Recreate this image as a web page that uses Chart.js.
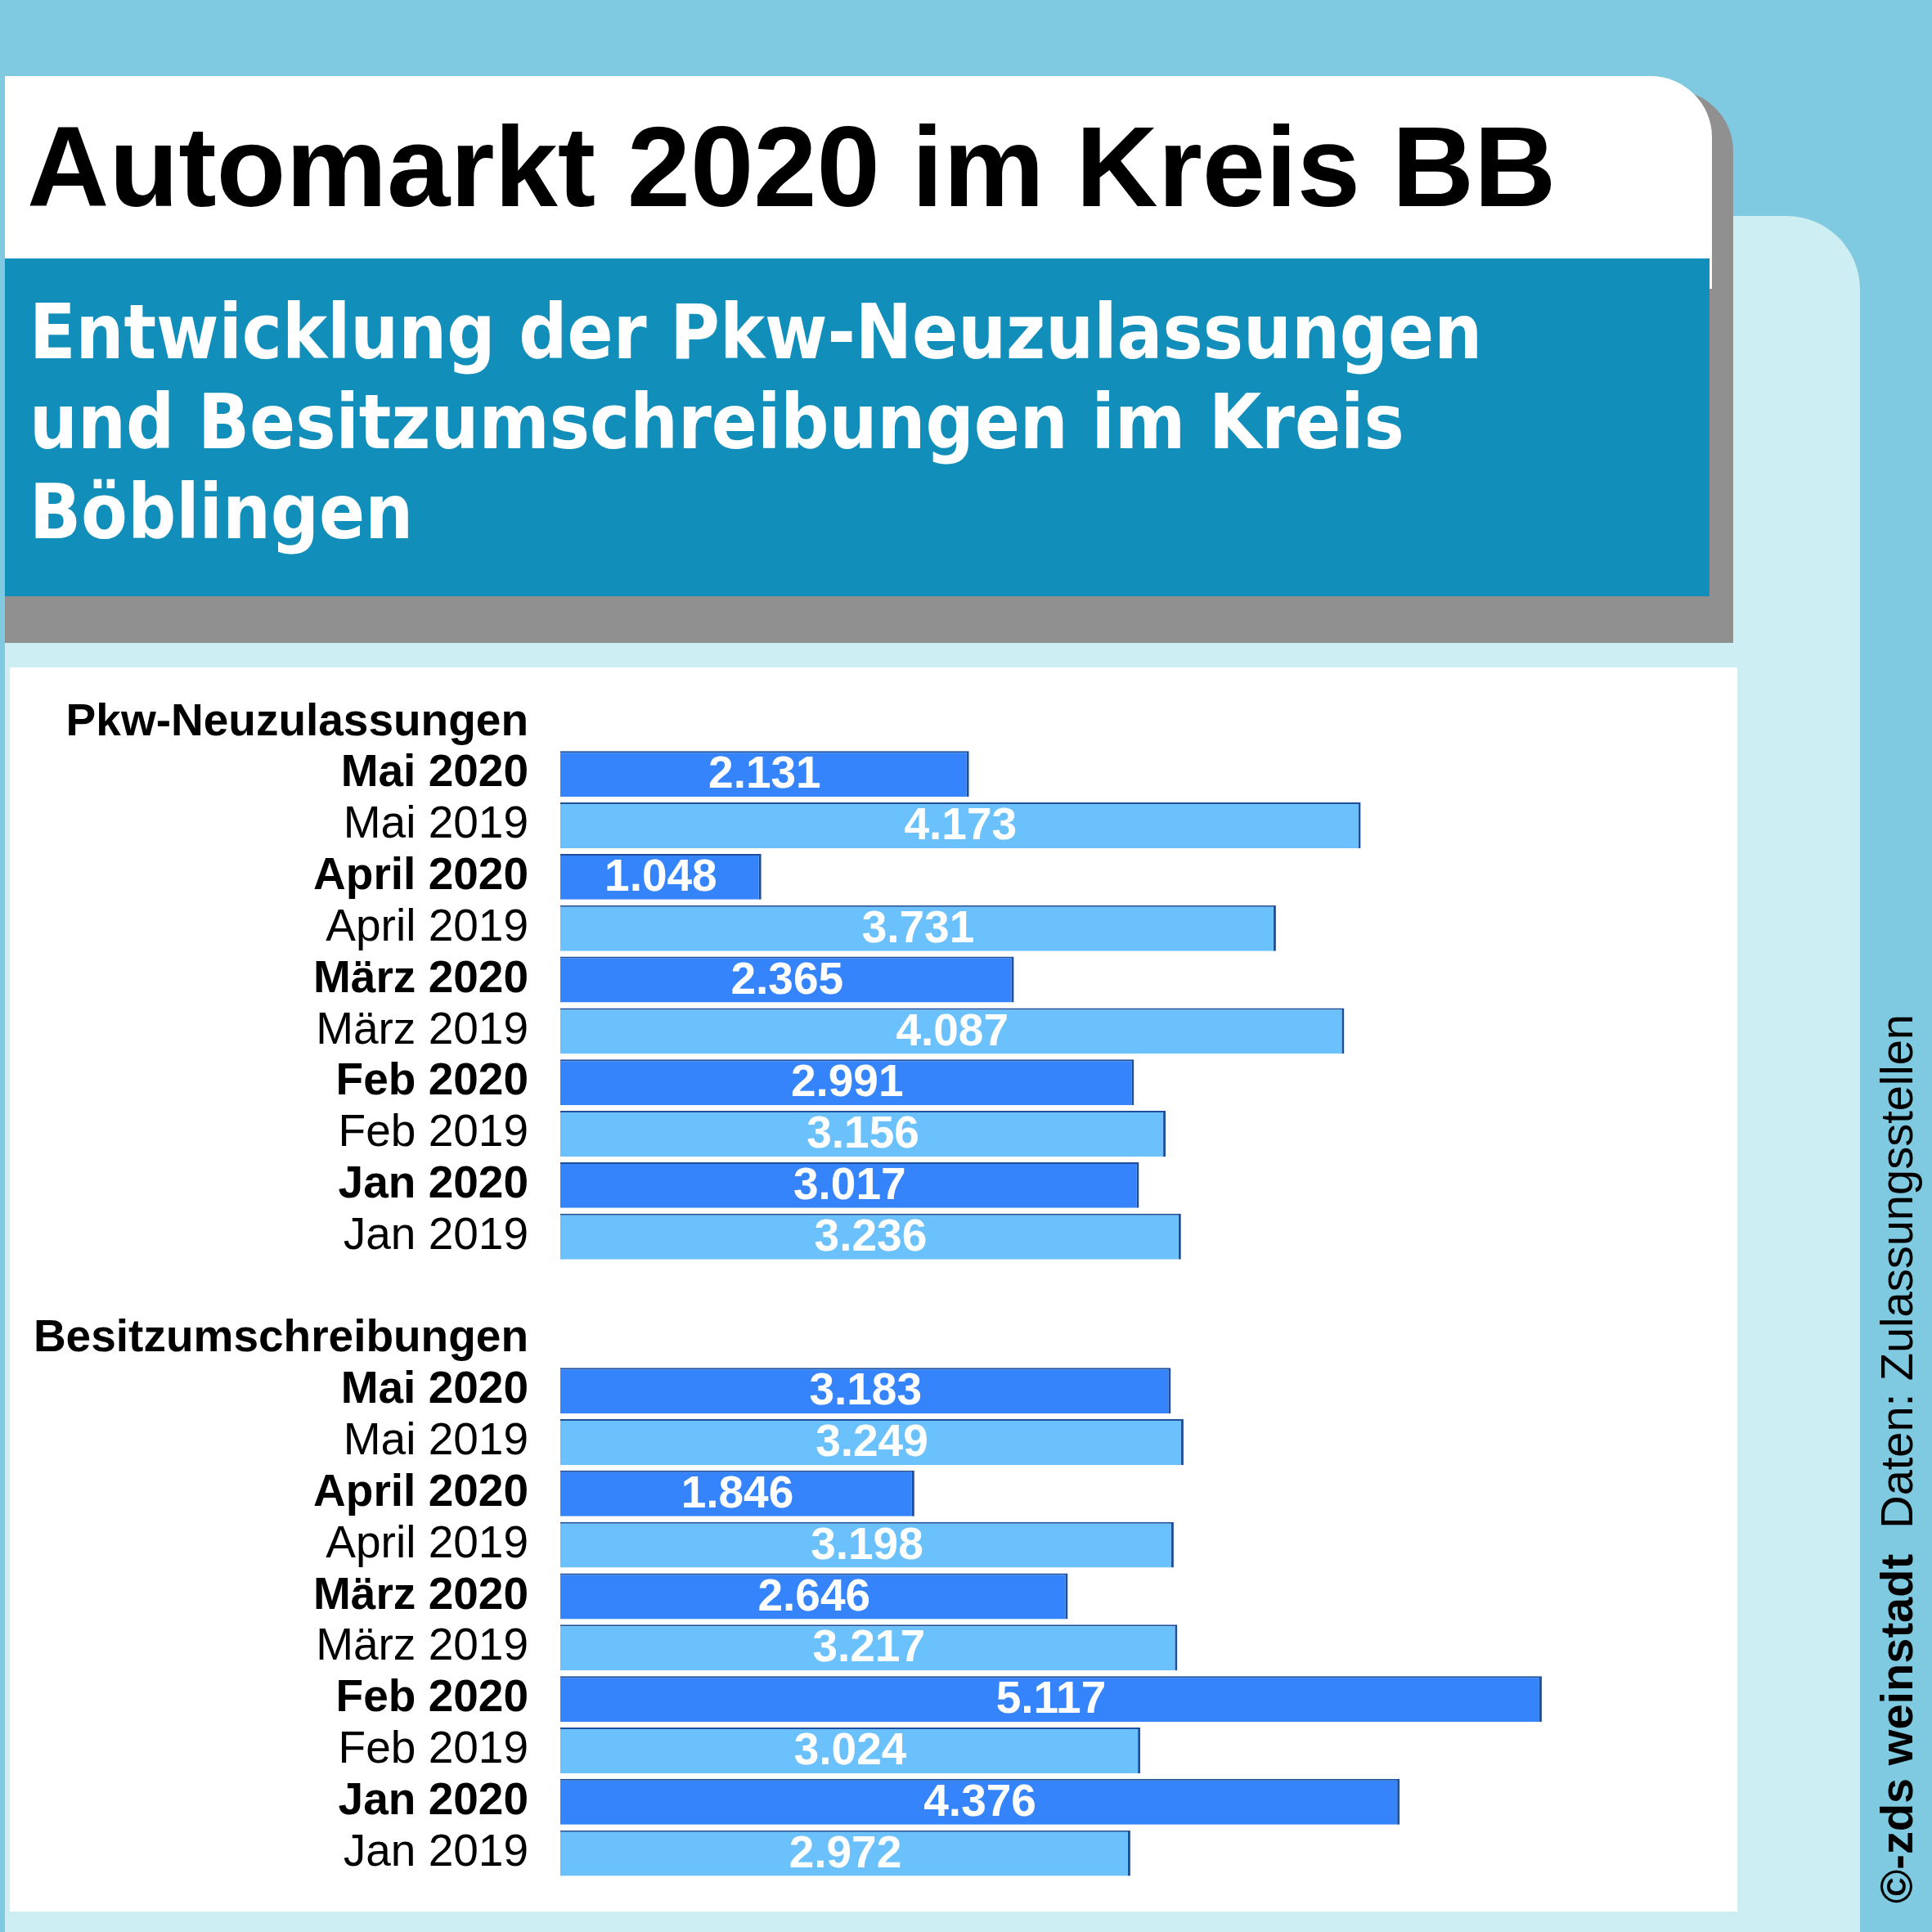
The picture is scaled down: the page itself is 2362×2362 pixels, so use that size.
<!DOCTYPE html>
<html>
<head>
<meta charset="utf-8">
<script src="https://cdn.jsdelivr.net/npm/chart.js@4/dist/chart.umd.min.js"></script>
<style>
  html, body { margin: 0; padding: 0; }
  body { width: 2362px; height: 2362px; background: #7fcae0; position: relative; overflow: hidden; font-family: "Liberation Sans", Arial, sans-serif; }
  .abs { position: absolute; }
  #panel { left: 6px; top: 264px; width: 2268px; height: 2110px; background: #cdeef3; border-top-right-radius: 90px; }
  #shadow { left: 6px; top: 110px; width: 2113px; height: 676px; background: #909090; border-top-right-radius: 75px; }
  #card { left: 6px; top: 93px; width: 2087px; height: 260px; background: #fff; border-top-right-radius: 75px; }
  #teal { left: 6px; top: 316px; width: 2084px; height: 413px; background: #128ebb; }
  #white { left: 12px; top: 816px; width: 2112px; height: 1521px; background: #fff; }
  #title { left: 33px; top: 134px; font: bold 139px "Liberation Sans", Arial, sans-serif; color: #000; white-space: nowrap; line-height: 1; }
  #sub { left: 36px; top: 352px; font: bold 92px "DejaVu Sans Condensed", "DejaVu Sans", sans-serif; font-stretch: condensed; color: #fff; line-height: 110px; white-space: nowrap; }
  #src { left: 2319px; top: 2327px; transform-origin: 0 0; transform: rotate(-90deg) translateY(-50%); font-size: 56px; color: #000; white-space: nowrap; line-height: 1; }
  #wrap { left: 0; top: 788px; width: 2124px; height: 1573px; }
</style>
</head>
<body>
<div class="abs" id="panel"></div>
<div class="abs" id="shadow"></div>
<div class="abs" id="card"></div>
<div class="abs" id="teal"></div>
<div class="abs" id="white"></div>
<div class="abs" id="title">Automarkt 2020 im Kreis BB</div>
<div class="abs" id="sub">Entwicklung der Pkw-Neuzulassungen<br>und Besitzumschreibungen im Kreis<br>Böblingen</div>
<div class="abs" id="src"><b>©-zds weinstadt</b>&nbsp; Daten: Zulassungsstellen</div>
<div class="abs" id="wrap"><canvas id="c" width="2124" height="1573"></canvas></div>
<script>
const months = ['Mai 2020', 'Mai 2019', 'April 2020', 'April 2019', 'März 2020', 'März 2019',
                'Feb 2020', 'Feb 2019', 'Jan 2020', 'Jan 2019'];
const neuzulassungen = [2131, 4173, 1048, 3731, 2365, 4087, 2991, 3156, 3017, 3236];
const besitzumschreibungen = [3183, 3249, 1846, 3198, 2646, 3217, 5117, 3024, 4376, 2972];
const sections = ['Pkw-Neuzulassungen', 'Besitzumschreibungen'];

// header row, 10 months, blank row, header row, 10 months
const labels = [sections[0], ...months, '', sections[1], ...months];
const values = [null, ...neuzulassungen, null, null, ...besitzumschreibungen];
const is2020 = labels.map(l => l.endsWith('2020'));
const isHeader = labels.map(l => sections.includes(l));
const colors = is2020.map(b => b ? '#3584fb' : '#6bc1fb');

const valueLabels = {
  id: 'valueLabels',
  afterDatasetsDraw(chart) {
    const ctx = chart.ctx;
    const meta = chart.getDatasetMeta(0);
    ctx.save();
    ctx.fillStyle = '#fff';
    ctx.font = 'bold 55px "Liberation Sans", Arial, sans-serif';
    ctx.textAlign = 'center';
    ctx.textBaseline = 'middle';
    meta.data.forEach((bar, i) => {
      const v = values[i];
      if (v == null) return;
      ctx.fillText(v.toLocaleString('de-DE'), (bar.base + bar.x) / 2, bar.y + 2);
    });
    ctx.restore();
  }
};

new Chart(document.getElementById('c'), {
  type: 'bar',
  data: {
    labels: labels,
    datasets: [{
      data: values,
      backgroundColor: colors,
      borderColor: '#1f4f9a',
      borderWidth: { right: 3, top: 2 },
      borderSkipped: false,
      barPercentage: 0.89,
      categoryPercentage: 1
    }]
  },
  options: {
    indexAxis: 'y',
    responsive: false,
    animation: false,
    layout: { padding: { top: 0, bottom: 13, right: 32 } },
    plugins: { legend: { display: false }, tooltip: { enabled: false } },
    scales: {
      x: { display: false, min: 0, max: 6000 },
      y: {
        grid: { display: false },
        border: { display: false },
        afterFit(scale) { scale.width = 685; },
        ticks: {
          padding: 31,
          color: '#000',
          autoSkip: false,
          font: ctx => ({
            family: '"Liberation Sans", Arial, sans-serif',
            size: 55,
            weight: (is2020[ctx.index] || isHeader[ctx.index]) ? 'bold' : 'normal'
          })
        }
      }
    }
  },
  plugins: [valueLabels]
});
</script>
</body>
</html>
